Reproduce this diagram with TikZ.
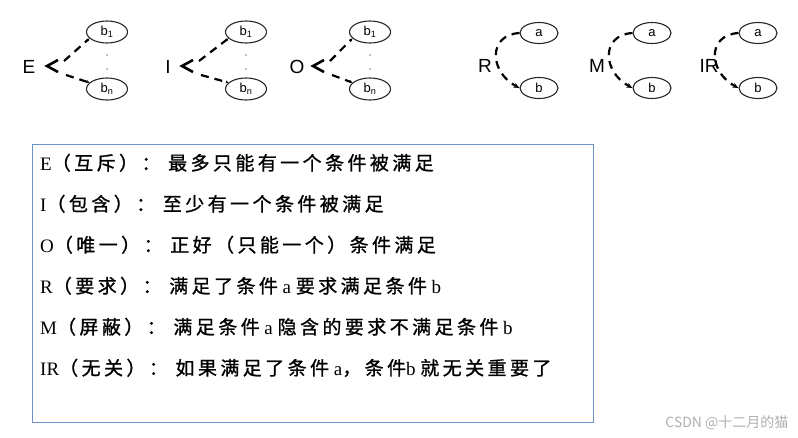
\documentclass[tikz,border=0pt]{standalone}
\usepackage{fontspec}
\setmainfont{Liberation Serif}
\setsansfont{Liberation Sans}
\newfontfamily\cjkfont{Noto Sans CJK SC}[LetterSpace=18,FakeBold=1]
\newfontfamily\markfont{Noto Sans CJK SC}
\usetikzlibrary{shapes.geometric,arrows.meta}
\definecolor{boxblue}{RGB}{110,145,200}
\definecolor{markgray}{RGB}{175,175,175}
\newcommand{\zh}[1]{{\cjkfont #1}}
\tikzset{
  cond/.style={draw=black!85,ellipse,line width=1.1pt,minimum width=41pt,minimum height=22pt,inner sep=0pt,font=\sffamily\fontsize{13}{13}\selectfont},
  rel/.style={font=\sffamily\fontsize{19}{19}\selectfont,inner sep=0pt},
  link/.style={line width=2.2pt,dash pattern=on 8pt off 6pt},
  txt/.style={anchor=base west,inner sep=0pt,font=\fontsize{19}{21}\selectfont},
}
\begin{document}
\begin{tikzpicture}[x=1pt,y=-1pt]
\useasboundingbox (0,0) rectangle (798,437);
% E, I, O: one condition of b1..bn
\foreach \lab/\lx/\cx/\ex in {E/29/47/107,I/168/182/246,O/297/313/370}{
  \node[rel] (n\lab) at (\lx,67) {\lab};
  \node[cond] (b1\lab) at (\ex,32) {b\textsubscript{1}};
  \node[cond] (bn\lab) at (\ex,89) {b\textsubscript{n}};
  \draw[line width=2.6pt] (\cx+11,60) -- (\cx,66) -- (\cx+11,72);
  \coordinate (up\lab) at (\cx+17,61);
  \coordinate (lo\lab) at (\cx+19,75);
  \draw[link,-{Stealth[length=3pt,width=3pt]}] (up\lab) -- (b1\lab.200);
  \draw[link,-{Stealth[length=3pt,width=3pt]}] (lo\lab) -- (bn\lab.160);
  \fill[gray] (\ex,55) circle (0.8pt) (\ex,69) circle (0.8pt);
}
% R, M, IR: condition a to condition b
\foreach \lab/\lx/\ex in {R/485/539,M/597/652,IR/709/758}{
  \node[rel] (n\lab) at (\lx,66) {\lab};
  \node[cond,minimum width=38pt,minimum height=21pt] (a\lab) at (\ex,33) {a};
  \node[cond,minimum width=38pt,minimum height=21pt] (b\lab) at (\ex,88) {b};
  \draw[link,-{Stealth[length=6pt,width=5pt]}] (a\lab.west) .. controls +(-32,2) and +(-30,-16) .. (b\lab.west);
}
% legend
\draw[boxblue,line width=0.9pt] (32,144) rectangle (593,422);
\node[txt] (l1) at (40,170) {E\zh{（互斥）：\ 最多只能有一个条件被满足}};
\node[txt] (l2) at (40,211) {I\zh{（包含）：\ 至少有一个条件被满足}};
\node[txt] (l3) at (40,252) {O\zh{（唯一）：\ 正好（只能一个）条件满足}};
\node[txt] (l4) at (40,293) {R\zh{（要求）：\ 满足了条件}\ a\ \zh{要求满足条件}\ b};
\node[txt] (l5) at (40,334) {M\zh{（屏蔽）：\ 满足条件}\ a\ \zh{隐含的要求不满足条件}\ b};
\node[txt] (l6) at (40,375) {IR\zh{（无关）：\ 如果满足了条件}\ a\zh{，条件}b\ \zh{就无关重要了}};
\node[font=\markfont\fontsize{14}{14}\selectfont,text=markgray,anchor=east] (mark) at (792,423) {CSDN @十二月的猫};
\end{tikzpicture}
\end{document}
